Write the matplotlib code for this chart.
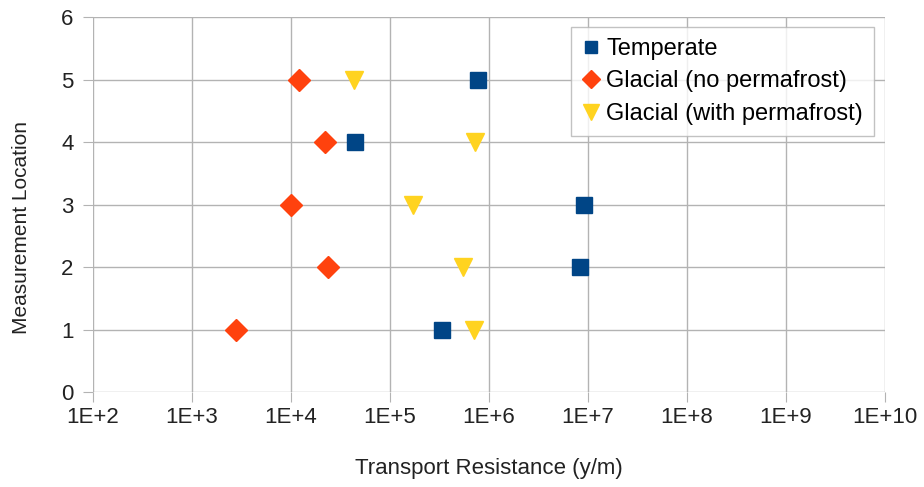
import matplotlib
matplotlib.use('Agg')
import matplotlib.pyplot as plt
from matplotlib.ticker import FixedLocator, NullLocator

plt.rcParams['font.family'] = ['Liberation Sans', 'DejaVu Sans']

# data
locations = [1, 2, 3, 4, 5]
temperate = [3.35e5, 8.3e6, 9.1e6, 4.4e4, 7.7e5]
glacial_no_pf = [2.8e3, 2.37e4, 1.0e4, 2.2e4, 1.2e4]
glacial_pf = [7.0e5, 5.5e5, 1.7e5, 7.2e5, 4.3e4]

xticks = [1e2, 1e3, 1e4, 1e5, 1e6, 1e7, 1e8, 1e9, 1e10]
xticklabels = ['1E+2', '1E+3', '1E+4', '1E+5', '1E+6', '1E+7', '1E+8', '1E+9', '1E+10']
yticks = [0, 1, 2, 3, 4, 5, 6]

fig = plt.figure(figsize=(9.24, 4.87), dpi=100)
ax = fig.add_axes([0.1006, 0.195, 0.8571, 0.770])

ax.plot(temperate, locations, linestyle='none', marker='s', markersize=11,
        color='#004586', label='Temperate', zorder=3)
ax.plot(glacial_no_pf, locations, linestyle='none', marker='D', markersize=11,
        color='#ff420e', label='Glacial (no permafrost)', zorder=3)
ax.plot(glacial_pf, locations, linestyle='none', marker='v', markersize=13,
        color='#ffd320', label='Glacial (with permafrost)', zorder=3)

ax.set_xscale('log')
ax.set_xlim(1e2, 1e10)
ax.set_ylim(0, 6)
ax.xaxis.set_major_locator(FixedLocator(xticks))
ax.xaxis.set_minor_locator(NullLocator())
ax.set_xticklabels(xticklabels)
ax.set_yticks(yticks)

ax.grid(True, color='#b3b3b3', linewidth=1)
ax.set_axisbelow(True)
for s in ax.spines.values():
    s.set_visible(False)
ax.tick_params(length=7, color='#b3b3b3', labelsize=16, labelcolor='#222222')
ax.tick_params(axis='y', pad=7)
ax.tick_params(axis='x', pad=4)

ax.set_xlabel('Transport Resistance (y/m)', fontsize=16, color='#222222')
ax.set_ylabel('Measurement Location', fontsize=15, color='#222222')
ax.xaxis.set_label_coords(0.5, -0.176)
ax.yaxis.set_label_coords(-0.078, 0.44)

leg = ax.legend(loc='upper right', bbox_to_anchor=(0.986, 0.973), fontsize=17,
                frameon=True, fancybox=False, edgecolor='#b3b3b3',
                handlelength=0.75, handletextpad=0.3, borderpad=0.45,
                labelspacing=0.45, markerscale=0.85, borderaxespad=0)
leg.get_frame().set_linewidth(1)

fig.savefig('out.png', dpi=100)
